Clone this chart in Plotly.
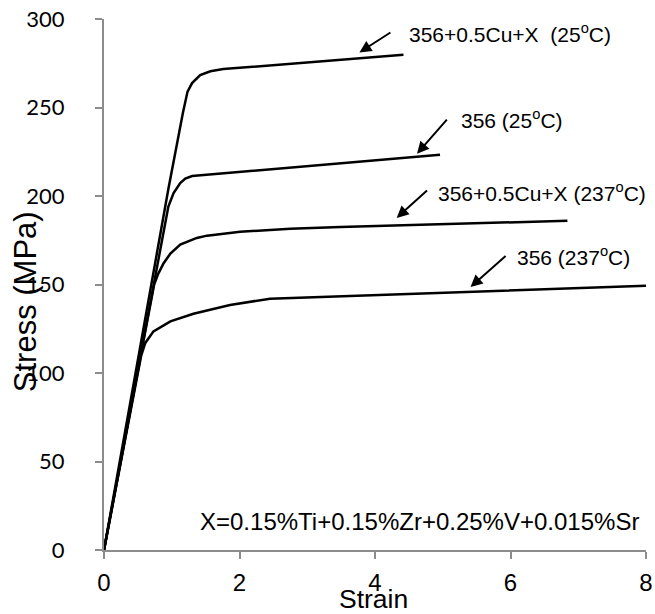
import plotly.graph_objects as go

# ---- data ----
strain_cux_25 = [0, 0.95, 1.165, 1.233, 1.30, 1.42, 1.57, 1.76, 4.42]
stress_cux_25 = [0, 204, 247, 259, 263.8, 268.3, 270.5, 271.7, 279.8]

strain_356_25 = [0, 0.95, 1.027, 1.125, 1.20, 1.30, 4.96]
stress_356_25 = [0, 194, 201.7, 207.3, 209.8, 211.3, 223.3]

strain_cux_237 = [0, 0.74, 0.80, 0.88, 0.98, 1.125, 1.37, 1.52, 2.01, 2.75, 3.49, 6.84]
stress_cux_237 = [0, 150, 156, 162, 167.5, 172.5, 176.3, 177.6, 179.8, 181.5, 182.5, 186]

strain_356_237 = [0, 0.55, 0.61, 0.73, 0.98, 1.32, 1.86, 2.45, 8.0]
stress_356_237 = [0, 110, 117, 123.5, 129.2, 133.5, 138.4, 142, 149.3]

series_names = ["356+0.5Cu+X\u00a0 (25<sup>o</sup>C)", "356 (25<sup>o</sup>C)",
                "356+0.5Cu+X (237<sup>o</sup>C)", "356 (237<sup>o</sup>C)"]
# label anchor (x, y), arrow head (x, y), arrow tail (x, y) in data units
label_pos = [(4.465, 292.0), (5.245, 243.4), (4.90, 202.0), (6.066, 166.2)]
arrow_head = [(3.77, 281.1), (4.62, 223.9), (4.32, 187.6), (5.41, 148.6)]
arrow_tail = [(4.25, 292.9), (5.08, 244.0), (4.79, 203.9), (5.95, 166.9)]

x_ticks = [0, 2, 4, 6, 8]
y_ticks = [0, 50, 100, 150, 200, 250, 300]
note_text = "X=0.15%Ti+0.15%Zr+0.25%V+0.015%Sr"

fig = go.Figure()
for xs, ys, nm in [(strain_cux_25, stress_cux_25, series_names[0]),
                   (strain_356_25, stress_356_25, series_names[1]),
                   (strain_cux_237, stress_cux_237, series_names[2]),
                   (strain_356_237, stress_356_237, series_names[3])]:
    fig.add_trace(go.Scatter(x=xs, y=ys, mode="lines", name=nm,
                             line=dict(color="black", width=2.5),
                             showlegend=False))

FONT = "Liberation Sans, Arial, sans-serif"
ann = []
for (lx, ly), (hx, hy), (tx, ty), txt in zip(label_pos, arrow_head, arrow_tail, series_names):
    ann.append(dict(x=hx, y=hy, ax=tx, ay=ty, xref="x", yref="y", axref="x", ayref="y",
                    text="", showarrow=True, arrowhead=2, arrowsize=1.2, arrowwidth=2,
                    arrowcolor="black", standoff=0, startstandoff=0))
    ann.append(dict(x=lx, y=ly, xref="x", yref="y", text=txt, showarrow=False,
                    xanchor="left", yanchor="middle",
                    font=dict(family=FONT, size=21, color="black")))

ann.append(dict(x=4.65, y=16.3, xref="x", yref="y", text=note_text, showarrow=False,
                xanchor="center", yanchor="middle",
                font=dict(family=FONT, size=24, color="black")))
ann.append(dict(x=0.4975, y=-0.093, xref="paper", yref="paper", text="Strain",
                showarrow=False, xanchor="center", yanchor="middle",
                font=dict(family=FONT, size=26.5, color="black")))
ann.append(dict(x=-0.145, y=0.4675, xref="paper", yref="paper", text="Stress (MPa)",
                showarrow=False, xanchor="center", yanchor="middle", textangle=-90,
                font=dict(family=FONT, size=31, color="black")))

axis_col = "#8c8c8c"
fig.update_layout(
    width=655, height=614,
    margin=dict(l=104, r=9, t=19, b=64),
    paper_bgcolor="white", plot_bgcolor="white",
    annotations=ann,
    xaxis=dict(range=[0, 8], tickvals=x_ticks, showgrid=False, zeroline=False,
               automargin=False,
               showline=True, linecolor=axis_col, linewidth=2,
               ticks="outside", ticklen=7, tickwidth=2, tickcolor=axis_col,
               ticklabelstandoff=3,
               tickfont=dict(family=FONT, size=24, color="black")),
    yaxis=dict(range=[0, 300], tickvals=y_ticks, showgrid=False, zeroline=False,
               automargin=False,
               showline=True, linecolor=axis_col, linewidth=2,
               ticks="outside", ticklen=7, tickwidth=2, tickcolor=axis_col,
               ticklabelstandoff=26,
               tickfont=dict(family="Lato, Liberation Sans, sans-serif", size=22, color="black")),
)

fig.write_html("out.html", config={"displayModeBar": False},
               post_script="document.body.style.margin='0';document.body.style.padding='0';")
